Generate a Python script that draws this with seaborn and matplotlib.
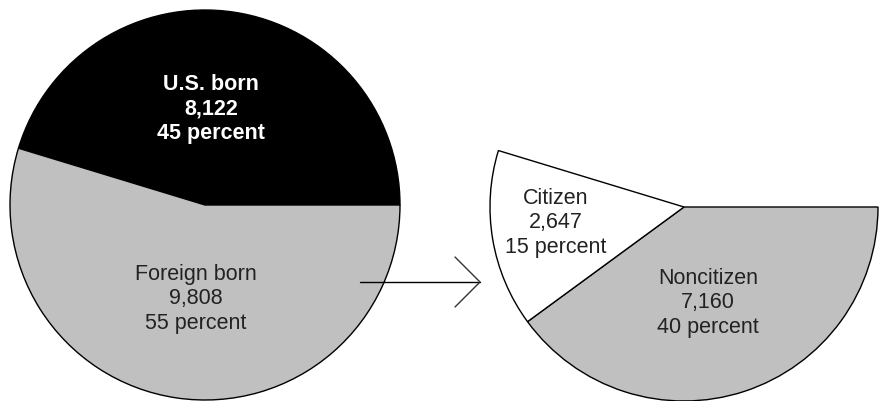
import matplotlib
matplotlib.use("Agg")
import matplotlib.pyplot as plt
import seaborn as sns

# Data
left_labels = ["U.S. born", "Foreign born"]
left_values = [8122, 9808]
left_pcts = [45, 55]
right_labels = ["Noncitizen", "Citizen"]
right_values = [7160, 2647]
right_pcts = [40, 15]

sns.set_theme(style="white")
plt.rcParams["font.family"] = ["Liberation Sans", "DejaVu Sans"]

W, H = 881, 402
fig = plt.figure(figsize=(W / 100, H / 100), dpi=100)
ax = fig.add_axes([0, 0, 1, 1])

GRAY = "#C0C0C0"
edge = dict(edgecolor="black", linewidth=1.0)

# Left full pie: U.S. born (black) from 0 deg counterclockwise, then Foreign born (gray)
lc = (205, H - 206)
ax.pie(left_values, colors=["black", GRAY], startangle=0, counterclock=True,
       center=lc, radius=195, wedgeprops=edge, frame=True)

# Right partial pie: the foreign-born share, split clockwise from 0 deg
rc = (684, H - 208)
wedges, _ = ax.pie(right_values + [left_values[0]], colors=[GRAY, "white", "none"],
                   startangle=0, counterclock=False, center=rc, radius=194,
                   wedgeprops=edge, frame=True)
wedges[-1].set_visible(False)

ax.set_xlim(0, W)
ax.set_ylim(0, H)
ax.set_aspect("auto")
ax.axis("off")

fs = 15.5
ls = 1.2
ax.text(211, H - 109, f"{left_labels[0]}\n{left_values[0]:,}\n{left_pcts[0]} percent",
        color="white", fontweight="bold", fontsize=fs, ha="center", va="center",
        linespacing=ls)
ax.text(196, H - 299, f"{left_labels[1]}\n{left_values[1]:,}\n{left_pcts[1]} percent",
        color="#222222", fontsize=fs, ha="center", va="center", linespacing=ls)
ax.text(556, H - 223, f"{right_labels[1]}\n{right_values[1]:,}\n{right_pcts[1]} percent",
        color="#222222", fontsize=fs, ha="center", va="center", linespacing=ls)
ax.text(708, H - 303, f"{right_labels[0]}\n{right_values[0]:,}\n{right_pcts[0]} percent",
        color="#222222", fontsize=fs, ha="center", va="center", linespacing=ls)

# Arrow
ay = H - 283
ax.plot([360, 480], [ay, ay], color="black", linewidth=1.0)
ax.plot([455, 480, 455], [ay + 25, ay, ay - 25], color="#333333", linewidth=1.0)

fig.savefig("out.png", dpi=100)
